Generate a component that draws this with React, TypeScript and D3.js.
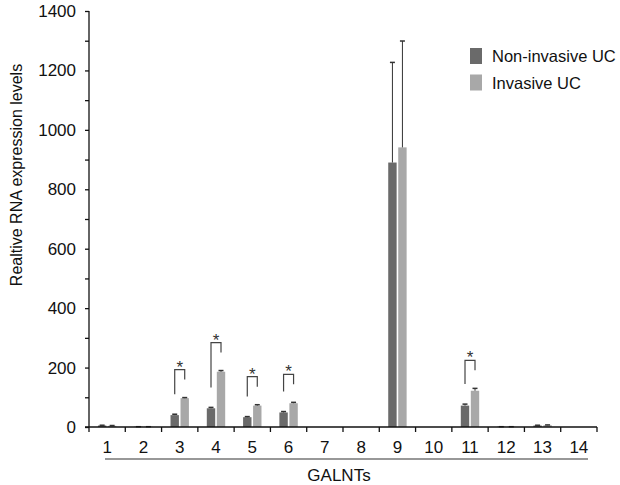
import React, { useEffect, useRef } from 'react';
import * as d3 from 'd3';

// GALNT genes 1..14
const genes = ['1', '2', '3', '4', '5', '6', '7', '8', '9', '10', '11', '12', '13', '14'];
const seriesNames = ['Non-invasive UC', 'Invasive UC'];
const nonInvasive = [5, 1, 40, 63, 33, 49, 0, 0, 890, 0, 72, 1, 5, 0];
const invasive = [4, 1, 97, 186, 72, 80, 0, 0, 941, 0, 122, 1, 6, 0];
const nonInvasiveErr = [1, 0, 3, 3, 2, 3, 0, 0, 337, 0, 5, 0, 1, 0];
const invasiveErr = [1, 0, 2, 4, 3, 3, 0, 0, 358, 0, 8, 0, 1, 0];
const significant = ['3', '4', '5', '6', '11'];
const yTicks = [0, 200, 400, 600, 800, 1000, 1200, 1400];

const colors = ['#6a6a6a', '#a8a8a8'];
const font = 'Liberation Sans, Arial, sans-serif';

const drawChart = (node: SVGSVGElement) => {
  const width = 620;
  const height = 485;
  const left = 89;
  const right = 597;
  const top = 11;
  const bottom = 427;

  const svg = d3.select(node).attr('width', width).attr('height', height);
  svg.selectAll('*').remove();

  const x = d3.scaleBand().domain(genes).range([left, right]);
  const y = d3.scaleLinear().domain([0, 1400]).range([bottom, top]);
  const barW = 8.4;
  const gap = 1.6;

  const series = [
    { values: nonInvasive, errs: nonInvasiveErr, color: colors[0], dx: -gap / 2 - barW },
    { values: invasive, errs: invasiveErr, color: colors[1], dx: gap / 2 }
  ];

  // bars + error bars
  series.forEach(s => {
    const cx = (i: number) => x(genes[i])! + x.bandwidth() / 2 + s.dx;
    svg.append('g')
      .selectAll('rect')
      .data(s.values)
      .enter()
      .append('rect')
      .attr('x', (d, i) => cx(i))
      .attr('y', d => y(d))
      .attr('width', barW)
      .attr('height', d => bottom - y(d))
      .style('fill', s.color);

    const eg = svg.append('g').attr('stroke', '#333').attr('stroke-width', 1);
    s.values.forEach((v, i) => {
      if (v <= 0) return;
      const mx = cx(i) + barW / 2;
      const y1 = y(v + s.errs[i]);
      eg.append('line').attr('x1', mx).attr('x2', mx).attr('y1', y(v)).attr('y2', y1);
      eg.append('line').attr('x1', mx - 2.5).attr('x2', mx + 2.5).attr('y1', y1).attr('y2', y1)
        .attr('stroke-width', 1.5);
    });
  });

  // significance brackets
  const bg = svg.append('g').attr('stroke', '#444').attr('stroke-width', 1.2).attr('fill', 'none');
  significant.forEach(g => {
    const i = genes.indexOf(g);
    const c = x(g)! + x.bandwidth() / 2;
    const lx = c + series[0].dx + barW / 2;
    const rx = c + series[1].dx + barW / 2;
    const rBottom = y(invasive[i] + invasiveErr[i]) - 18;
    const lBottom = y(nonInvasive[i] + nonInvasiveErr[i]) - 20;
    const topY = rBottom - 10;
    bg.append('path').attr('d', `M${lx},${lBottom}V${topY}H${rx}V${rBottom}`);
    svg.append('text')
      .attr('x', (lx + rx) / 2)
      .attr('y', topY + 3)
      .attr('text-anchor', 'middle')
      .style('font-family', font)
      .style('font-size', '17px')
      .style('fill', '#333')
      .text('*');
  });

  // y axis
  const yAxis = svg.append('g').attr('transform', `translate(${left},0)`)
    .call(d3.axisLeft(y).tickValues(d3.range(0, 1401, 100)).tickSize(4).tickFormat(d => (yTicks.includes(+d) ? String(d) : '')));
  yAxis.select('.domain').attr('d', `M0,${top}V${bottom}`).attr('stroke', '#111').attr('stroke-width', 1.3);
  yAxis.selectAll('.tick line').attr('stroke', '#111').attr('stroke-width', 1.3);
  yAxis.selectAll('.tick text')
    .attr('x', -13)
    .style('font-family', font)
    .style('font-size', '17px')
    .style('fill', '#111');

  // x axis
  const xg = svg.append('g');
  xg.append('line').attr('x1', left - 4).attr('x2', right).attr('y1', bottom).attr('y2', bottom)
    .attr('stroke', '#111').attr('stroke-width', 1.3);
  const bounds = genes.map(g => x(g)!).concat([right]);
  xg.selectAll('.xt')
    .data(bounds)
    .enter()
    .append('line')
    .attr('x1', d => d).attr('x2', d => d)
    .attr('y1', bottom).attr('y2', bottom + 5)
    .attr('stroke', '#111').attr('stroke-width', 1.3);
  xg.selectAll('.xl')
    .data(genes)
    .enter()
    .append('text')
    .attr('x', d => x(d)! + x.bandwidth() / 2)
    .attr('y', 453)
    .attr('text-anchor', 'middle')
    .style('font-family', font)
    .style('font-size', '17px')
    .style('fill', '#111')
    .text(d => d);

  // group line + title
  svg.append('line').attr('x1', 105).attr('x2', 588).attr('y1', 459).attr('y2', 459)
    .attr('stroke', '#333').attr('stroke-width', 1.2);
  svg.append('text')
    .attr('x', 339).attr('y', 481)
    .attr('text-anchor', 'middle')
    .style('font-family', font).style('font-size', '17px').style('fill', '#111')
    .text('GALNTs');

  svg.append('text')
    .attr('transform', 'translate(22,175) rotate(-90)')
    .attr('text-anchor', 'middle')
    .style('font-family', font).style('font-size', '16px').style('fill', '#111')
    .text('Realtive RNA expression levels');

  // legend
  seriesNames.forEach((name, i) => {
    svg.append('rect')
      .attr('x', 470).attr('y', 48 + i * 26.5)
      .attr('width', 12).attr('height', 16)
      .style('fill', colors[i]);
    svg.append('text')
      .attr('x', 492).attr('y', 62 + i * 26.5)
      .style('font-family', font).style('font-size', '16.5px').style('fill', '#111')
      .text(name);
  });
};

export default function App () {
  const ref = useRef<SVGSVGElement>(null);
  useEffect(() => {
    if (ref.current) drawChart(ref.current);
  }, []);
  return (
    <svg ref={ref} style={{ position: 'absolute', left: 0, top: 0, background: '#fff' }} />
  );
}
